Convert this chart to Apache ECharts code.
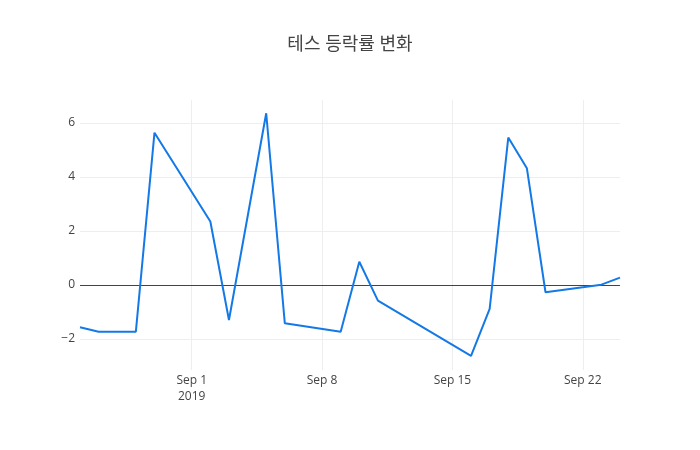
<!DOCTYPE html>
<html>
<head>
<meta charset="utf-8">
<script src="https://cdn.jsdelivr.net/npm/echarts@6/dist/echarts.min.js"></script>
<style>
  html, body { margin: 0; padding: 0; background: #fff; }
  #chart { width: 700px; height: 450px; }
</style>
</head>
<body>
<div id="chart"></div>
<script>
  var titleText = '테스 등락률 변화';
  // 거래일
  var dates = ['2019-08-26', '2019-08-27', '2019-08-29', '2019-08-30', '2019-09-02', '2019-09-03',
               '2019-09-05', '2019-09-06', '2019-09-09', '2019-09-10', '2019-09-11', '2019-09-16',
               '2019-09-17', '2019-09-18', '2019-09-19', '2019-09-20', '2019-09-23', '2019-09-24'];
  // 등락률 (%)
  var changes = [-1.57, -1.73, -1.73, 5.64, 2.35, -1.30,
                 6.36, -1.42, -1.73, 0.86, -0.58, -2.63,
                 -0.89, 5.46, 4.32, -0.27, 0.01, 0.27];
  var xTicks = ['2019-09-01', '2019-09-08', '2019-09-15', '2019-09-22'];
  var xTickLabels = ['Sep 1\n2019', 'Sep 8', 'Sep 15', 'Sep 22'];
  var yTicks = [-2, 0, 2, 4, 6];

  // 날짜 -> 일 단위 숫자 (value 축으로 그림)
  function toDay(s) {
    var p = s.split('-');
    return Date.UTC(+p[0], +p[1] - 1, +p[2]) / 86400000;
  }

  var seriesData = [];
  for (var i = 0; i < dates.length; i++) {
    seriesData.push([toDay(dates[i]), changes[i]]);
  }
  var xTickDays = xTicks.map(toDay);

  var chart = echarts.init(document.getElementById('chart'));
  var option = {
    animation: false,
    textStyle: { fontFamily: '"Open Sans", "Noto Sans CJK KR", sans-serif' },
    title: {
      text: titleText,
      left: 'center',
      top: 31,
      textStyle: {
        fontSize: 18,
        fontWeight: 'normal',
        color: '#444',
        fontFamily: '"Open Sans", "Noto Sans CJK KR", sans-serif'
      }
    },
    grid: { left: 80, right: 80, top: 100, bottom: 80 },
    xAxis: {
      type: 'value',
      min: seriesData[0][0],
      max: seriesData[seriesData.length - 1][0],
      axisLine: { show: false },
      axisTick: { show: false, customValues: xTickDays },
      axisLabel: {
        customValues: xTickDays,
        color: '#444',
        fontSize: 12,
        lineHeight: 16,
        margin: 3,
        formatter: function (v) {
          var idx = xTickDays.indexOf(v);
          return idx >= 0 ? xTickLabels[idx] : '';
        }
      },
      splitLine: { show: true, lineStyle: { color: '#eee', width: 1 } }
    },
    yAxis: {
      type: 'value',
      min: -3.15,
      max: 6.85,
      axisLine: { show: false },
      axisTick: { show: false, customValues: yTicks },
      axisLabel: {
        customValues: yTicks,
        color: '#444',
        fontSize: 12,
        margin: 5,
        padding: [3, 0, 0, 0],
        formatter: function (v) { return String(v).replace('-', '\u2212'); }
      },
      splitLine: { show: true, lineStyle: { color: '#eee', width: 1 } }
    },
    series: [{
      type: 'line',
      data: seriesData,
      showSymbol: false,
      symbol: 'none',
      lineStyle: { color: '#1479e6', width: 2 },
      itemStyle: { color: '#1479e6' },
      markLine: {
        silent: true,
        symbol: 'none',
        label: { show: false },
        lineStyle: { color: '#444', width: 1, type: 'solid' },
        data: [{ yAxis: 0 }],
        z: 1
      }
    }]
  };
  chart.setOption(option);
</script>
</body>
</html>
